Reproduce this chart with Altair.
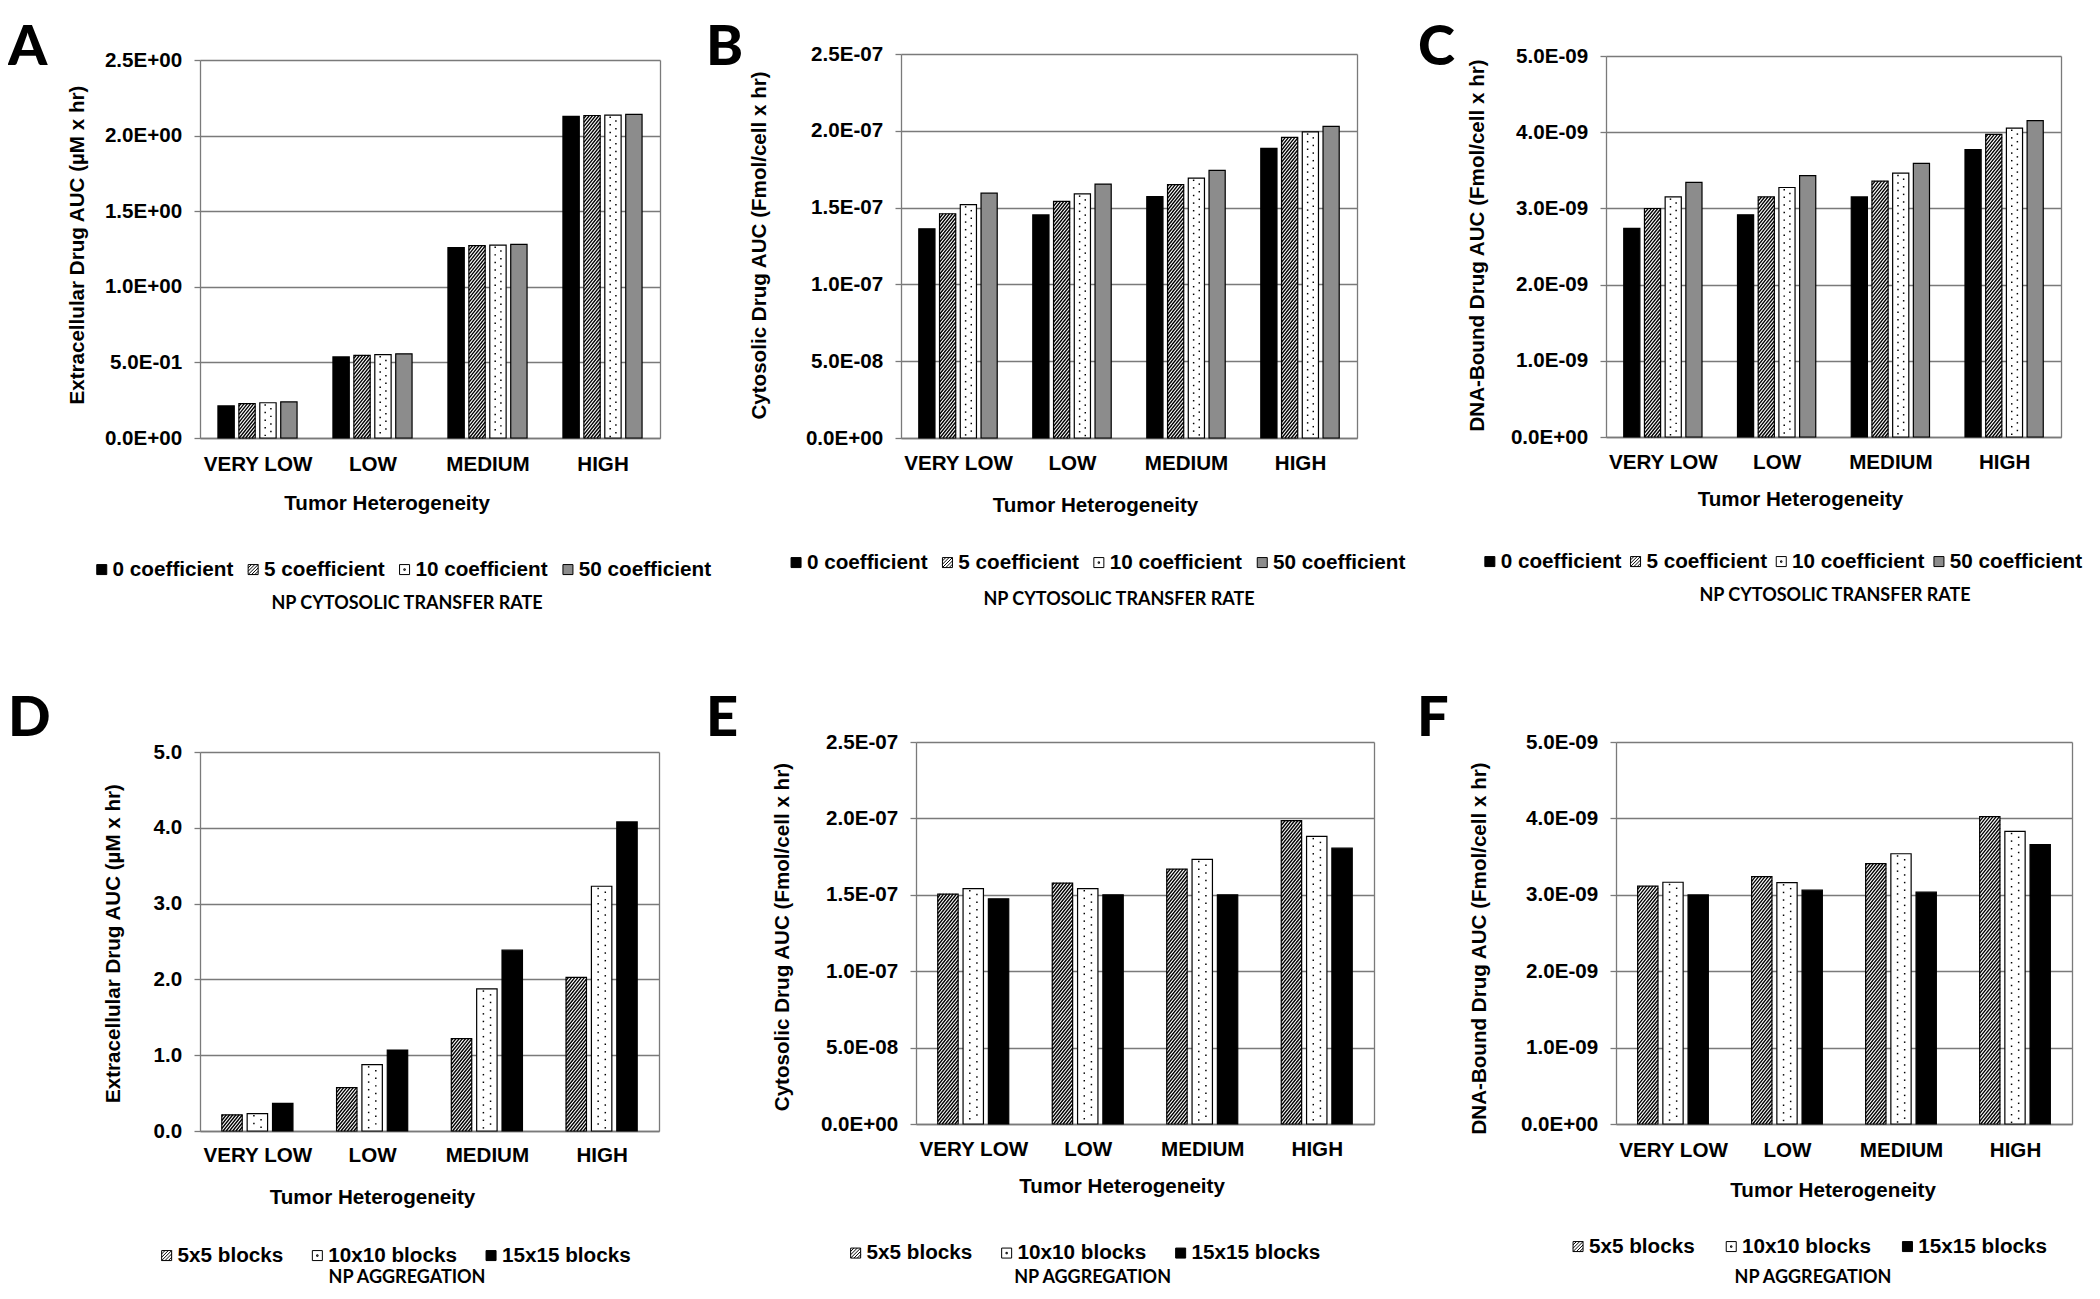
import json
import altair as alt
import pandas as pd

# ---------------- data ----------------
categories = ["VERY LOW", "LOW", "MEDIUM", "HIGH"]
transfer_rates = ["0 coefficient", "5 coefficient", "10 coefficient", "50 coefficient"]
aggregations = ["5x5 blocks", "10x10 blocks", "15x15 blocks"]

# A: Extracellular drug AUC (uM x hr) vs NP cytosolic transfer rate
a_coef0 = [0.212, 0.536, 1.259, 2.127]
a_coef5 = [0.227, 0.547, 1.272, 2.133]
a_coef10 = [0.233, 0.552, 1.276, 2.136]
a_coef50 = [0.239, 0.557, 1.281, 2.140]
# B: Cytosolic drug AUC
b_coef0 = [1.362e-7, 1.452e-7, 1.571e-7, 1.885e-7]
b_coef5 = [1.460e-7, 1.540e-7, 1.650e-7, 1.957e-7]
b_coef10 = [1.519e-7, 1.589e-7, 1.692e-7, 1.993e-7]
b_coef50 = [1.594e-7, 1.653e-7, 1.743e-7, 2.029e-7]
# C: DNA-bound drug AUC
c_coef0 = [2.739e-9, 2.916e-9, 3.150e-9, 3.773e-9]
c_coef5 = [2.999e-9, 3.150e-9, 3.358e-9, 3.971e-9]
c_coef10 = [3.150e-9, 3.274e-9, 3.462e-9, 4.054e-9]
c_coef50 = [3.342e-9, 3.430e-9, 3.591e-9, 4.153e-9]
# D: Extracellular drug AUC vs NP aggregation
d_5x5 = [0.214, 0.573, 1.219, 2.026]
d_10x10 = [0.229, 0.875, 1.875, 3.229]
d_15x15 = [0.365, 1.068, 2.385, 4.078]
# E: Cytosolic drug AUC vs NP aggregation
e_5x5 = [1.505e-7, 1.577e-7, 1.668e-7, 1.986e-7]
e_10x10 = [1.541e-7, 1.541e-7, 1.732e-7, 1.882e-7]
e_15x15 = [1.474e-7, 1.500e-7, 1.500e-7, 1.805e-7]
# F: DNA-bound drug AUC vs NP aggregation
f_5x5 = [3.113e-9, 3.237e-9, 3.407e-9, 4.023e-9]
f_10x10 = [3.164e-9, 3.159e-9, 3.537e-9, 3.831e-9]
f_15x15 = [2.999e-9, 3.061e-9, 3.035e-9, 3.656e-9]

# y-axis ticks and their labels
ticks_a = [0, 0.5, 1.0, 1.5, 2.0, 2.5]
tick_labels_a = ["0.0E+00", "5.0E-01", "1.0E+00", "1.5E+00", "2.0E+00", "2.5E+00"]
ticks_cyto = [0, 5e-8, 1e-7, 1.5e-7, 2e-7, 2.5e-7]
tick_labels_cyto = ["0.0E+00", "5.0E-08", "1.0E-07", "1.5E-07", "2.0E-07", "2.5E-07"]
ticks_dna = [0, 1e-9, 2e-9, 3e-9, 4e-9, 5e-9]
tick_labels_dna = ["0.0E+00", "1.0E-09", "2.0E-09", "3.0E-09", "4.0E-09", "5.0E-09"]
ticks_d = [0, 1, 2, 3, 4, 5]
tick_labels_d = ["0.0", "1.0", "2.0", "3.0", "4.0", "5.0"]

# ---------------- styles ----------------
FONT = "Liberation Sans"
TFONT = "Lato"
GRID = "#7a7a7a"
transfer_fills = ["#000000", "#ffffff", "#ffffff", "#8c8c8c"]
transfer_patterns = ["solid", "hatch", "dots", "solid"]
agg_fills = ["#ffffff", "#ffffff", "#000000"]
agg_patterns = ["hatch", "dots", "solid"]
SQ = "M-1,-1H1V1H-1Z"
HATCH_SYM = SQ + " M-1,-0.33L-0.33,-1 M-1,0.33L0.33,-1 M-1,1L1,-1 M-0.33,1L1,-0.33 M0.33,1L1,0.33"
DOT_SYM = SQ + " M-0.14,-0.14H0.14V0.14H-0.14Z"
transfer_shapes = [SQ, HATCH_SYM, DOT_SYM, SQ]
agg_shapes = [HATCH_SYM, DOT_SYM, SQ]


def make_df(series, value_lists, patterns):
    rows = []
    for si, (name, vals, pat) in enumerate(zip(series, value_lists, patterns)):
        for ci, (cat, v) in enumerate(zip(categories, vals)):
            rows.append({"category": cat, "series": name, "value": v,
                         "ci": ci, "si": si, "pattern": pat})
    return pd.DataFrame(rows)


def panel(df, series, fills, shapes, ticks, tick_labels, ytitle, np_text, g):
    W, H, Hc, ins = g["W"], g["H"], g["Hc"], g["inset"]
    ymax = ticks[-1]
    step = ticks[1]
    n = len(series)
    bw, pitch = g["bw"], g["pitch"]
    m = (1 - (n - 1) * pitch - bw) / 2
    ux = W / 4.0
    uy = H / ymax
    wp = bw * ux
    xs = alt.Scale(domain=[0, 4], range=[ins, ins + W], nice=False, zero=False, padding=0)
    ys = alt.Scale(domain=[0, ymax], range=[Hc, Hc - H], nice=False, zero=False, padding=0)

    base = alt.Chart(df).transform_calculate(
        x0=f"datum.ci + {m} + datum.si * {pitch}",
        x1=f"datum.ci + {m} + datum.si * {pitch} + {bw}",
    )
    x_axis = alt.Axis(values=[0.5, 1.5, 2.5, 3.5],
                      labelExpr=f"{json.dumps(categories)}[floor(datum.value)]",
                      ticks=False, tickSize=0, grid=False, labelPadding=g["xlp"], labelAngle=0,
                      labelFlush=False, labelOverlap=False,
                      title="Tumor Heterogeneity", titleX=g["xtx"], titleY=g["xty"],
                      titleAlign="center", titleBaseline="alphabetic")
    y_axis = alt.Axis(values=ticks, offset=-ins,
                      labelExpr=f"{json.dumps(tick_labels)}[round(datum.value / {step})]",
                      grid=True, ticks=True, tickSize=6, labelPadding=g["ylp"],
                      labelFlush=False, labelOverlap=False,
                      title=ytitle, titleAngle=270, titleX=g["ytx"], titleY=g["yty"],
                      titleAlign="center", titleBaseline="alphabetic")
    legend = alt.Legend(orient="none", legendX=g["lx"], legendY=g["ly"], direction="horizontal",
                        columns=n, title=None, symbolSize=100, symbolStrokeColor="black",
                        symbolStrokeWidth=1, symbolOpacity=1, labelOffset=0.5,
                        columnPadding=g["lcp"], labelLimit=400, padding=0)
    fill_enc = alt.Fill("series:N", scale=alt.Scale(domain=series, range=fills),
                        legend=legend, sort=series)

    bars = base.mark_rect(stroke="black", strokeWidth=1.2).encode(
        x=alt.X("x0:Q", scale=xs, axis=x_axis),
        x2="x1:Q",
        y=alt.Y("value:Q", scale=ys, axis=y_axis),
        y2=alt.Y2Datum(0),
        fill=fill_enc,
    )

    K, S = 1.25, 4.0
    hatch = base.transform_filter(alt.datum.pattern == "hatch").transform_calculate(
        hb=f"datum.value * {uy}",
        seq=f"sequence(0, ceil((datum.value * {uy} + {K * wp}) / {S}) + 1)",
    ).transform_flatten(["seq"], as_=["kk"]).transform_calculate(
        c=f"datum.kk * {S} - {K * wp}",
    ).transform_calculate(
        pa=f"max(0, -datum.c / {K})",
        pb=f"min({wp}, (datum.hb - datum.c) / {K})",
    ).transform_filter("datum.pb - datum.pa > 0.15").transform_calculate(
        xa=f"datum.x0 + datum.pa / {ux}",
        xb=f"datum.x0 + datum.pb / {ux}",
        ya=f"({K} * datum.pa + datum.c) / {uy}",
        yb=f"({K} * datum.pb + datum.c) / {uy}",
    ).mark_rule(color="black", strokeWidth=1.35).encode(
        x=alt.X("xa:Q", scale=xs, axis=None), x2="xb:Q",
        y=alt.Y("ya:Q", scale=ys, axis=None), y2="yb:Q",
    )

    RS, D0 = 3.8, 2.2
    dots = base.transform_filter(alt.datum.pattern == "dots").transform_calculate(
        hb=f"datum.value * {uy}",
        seq=f"sequence(0, floor((datum.value * {uy} - {D0} - 1.5) / {RS}) + 1)",
    ).transform_flatten(["seq"], as_=["jj"]).transform_calculate(
        xd=f"datum.x0 + {wp} * (datum.jj % 2 == 0 ? 0.33 : 0.68) / {ux}",
        yd=f"(datum.hb - {D0} - datum.jj * {RS}) / {uy}",
    ).mark_square(size=2.2, color="black", opacity=1, strokeWidth=0).encode(
        x=alt.X("xd:Q", scale=xs, axis=None),
        y=alt.Y("yd:Q", scale=ys, axis=None),
    )

    frame = base.transform_filter("datum.value < 0").mark_point(
        filled=True, opacity=1, strokeWidth=1).encode(
        x=alt.X("x0:Q", scale=xs, axis=None),
        y=alt.Y("value:Q", scale=ys,
                axis=alt.Axis(orient="right", labels=False, ticks=False, grid=False,
                              title=None, domain=True)),
        fill=fill_enc,
        stroke=alt.Stroke("series:N", scale=alt.Scale(domain=series, range=["#000000"] * n),
                          legend=legend, sort=series),
        shape=alt.Shape("series:N", scale=alt.Scale(domain=series, range=shapes),
                        legend=legend, sort=series),
    )

    return alt.layer(bars, hatch, dots, frame).resolve_axis(
        x="independent", y="independent").properties(
        width=ins + W, height=Hc,
        title=alt.TitleParams(np_text, orient="bottom", anchor="middle", frame="group",
                              baseline="alphabetic", offset=0, dx=g["npdx"], dy=g["npdy"],
                              font=TFONT, fontSize=18, fontWeight="bold", color="black"),
    )


def spacer(w, letter, dx, dy):
    return alt.Chart(pd.DataFrame({"s": [0]})).mark_point(opacity=0).properties(
        width=w, height=1,
        title=alt.TitleParams(letter, orient="top", anchor="start", frame="group",
                              baseline="alphabetic", offset=0, dx=dx, dy=dy,
                              font=TFONT, fontSize=56, fontWeight=900, color="black"),
    )


GEO13 = dict(bw=0.142, pitch=0.182)
GEO46 = dict(bw=0.178, pitch=0.221)

gA = dict(GEO13, inset=0, W=460, H=378, Hc=385, xlp=16.8, xtx=186.6, xty=71.4, ylp=12.3,
          ytx=-116.3, yty=191.6, lx=-108.6, ly=505.75, lcp=9.4, npdx=-23, npdy=29.6)
gB = dict(GEO13, inset=0, W=456, H=384, Hc=385, xlp=15.4, xtx=194, xty=73, ylp=12.3,
          ytx=-135.3, yty=192, lx=-115.3, ly=498.75, lcp=9.4, npdx=-10, npdy=32.7)
gC = dict(GEO13, inset=0, W=455, H=381, Hc=384, xlp=15.1, xtx=194, xty=68.4, ylp=12.3,
          ytx=-122.3, yty=192, lx=-126.5, ly=497.75, lcp=3.7, npdx=1.5, npdy=29.5)
gD = dict(GEO46, inset=0, W=459, H=379, Hc=389, xlp=14.9, xtx=172, xty=72.4, ylp=12.3,
          ytx=-80.6, yty=201, lx=-43.7, ly=502.75, lcp=22.7, npdx=-22.5, npdy=17.3)
gE = dict(GEO46, inset=15, W=458, H=382, Hc=382, xlp=15.2, xtx=220.6, xty=68.4, ylp=12.3,
          ytx=-127.8, yty=194.6, lx=-55.7, ly=500.25, lcp=23, npdx=-44.9, npdy=19.8)
gF = dict(GEO46, inset=10, W=456, H=382, Hc=382, xlp=16.4, xtx=226.6, xty=72.4, ylp=12.3,
          ytx=-130.3, yty=206, lx=-38.3, ly=493.75, lcp=25.2, npdx=-26, npdy=26.3)

ttl_extra = "Extracellular Drug AUC (µM x hr)"
ttl_cyto = "Cytosolic Drug AUC (Fmol/cell x hr)"
ttl_dna = "DNA-Bound Drug AUC (Fmol/cell x hr)"
np_rate = "NP CYTOSOLIC TRANSFER RATE"
np_agg = "NP AGGREGATION"

pA = panel(make_df(transfer_rates, [a_coef0, a_coef5, a_coef10, a_coef50], transfer_patterns),
           transfer_rates, transfer_fills, transfer_shapes, ticks_a, tick_labels_a, ttl_extra, np_rate, gA)
pB = panel(make_df(transfer_rates, [b_coef0, b_coef5, b_coef10, b_coef50], transfer_patterns),
           transfer_rates, transfer_fills, transfer_shapes, ticks_cyto, tick_labels_cyto, ttl_cyto, np_rate, gB)
pC = panel(make_df(transfer_rates, [c_coef0, c_coef5, c_coef10, c_coef50], transfer_patterns),
           transfer_rates, transfer_fills, transfer_shapes, ticks_dna, tick_labels_dna, ttl_dna, np_rate, gC)
pD = panel(make_df(aggregations, [d_5x5, d_10x10, d_15x15], agg_patterns),
           aggregations, agg_fills, agg_shapes, ticks_d, tick_labels_d, ttl_extra, np_agg, gD)
pE = panel(make_df(aggregations, [e_5x5, e_10x10, e_15x15], agg_patterns),
           aggregations, agg_fills, agg_shapes, ticks_cyto, tick_labels_cyto, ttl_cyto, np_agg, gE)
pF = panel(make_df(aggregations, [f_5x5, f_10x10, f_15x15], agg_patterns),
           aggregations, agg_fills, agg_shapes, ticks_dna, tick_labels_dna, ttl_dna, np_agg, gF)

ROW1_DY, ROW2_DY = 70.7, 52.0
cells = [
    spacer(192, "A", 0, ROW1_DY), pA, spacer(241, "B", 46, ROW1_DY), pB,
    spacer(232, "C", 44, ROW1_DY), pC,
    spacer(192, "D", 0, ROW2_DY), pD, spacer(241, "E", 46, ROW2_DY), pE,
    spacer(232, "F", 43, ROW2_DY), pF,
]

chart = alt.concat(
    *cells, columns=6, spacing={"row": 304, "column": 0}, bounds="flush", align="each",
).resolve_scale(
    x="independent", y="independent", fill="independent", shape="independent",
    stroke="independent",
).resolve_axis(
    x="independent", y="independent",
).resolve_legend(
    fill="independent", shape="independent", stroke="independent",
).properties(
    padding={"top": 12, "bottom": 4, "left": 0, "right": 0},
).configure_view(stroke=None).configure_axis(
    labelFont=FONT, labelFontSize=20.6, labelFontWeight="bold", labelColor="black",
    titleFont=FONT, titleFontSize=20.6, titleFontWeight="bold", titleColor="black",
    domainColor=GRID, domainWidth=1.3, gridColor=GRID, gridWidth=1.3, gridOpacity=1,
    tickColor=GRID, tickWidth=1.3,
).configure_legend(
    labelFont=FONT, labelFontSize=20.7, labelFontWeight="bold", labelColor="black",
)

chart.save("out.html", embed_options={"renderer": "svg", "actions": False})
